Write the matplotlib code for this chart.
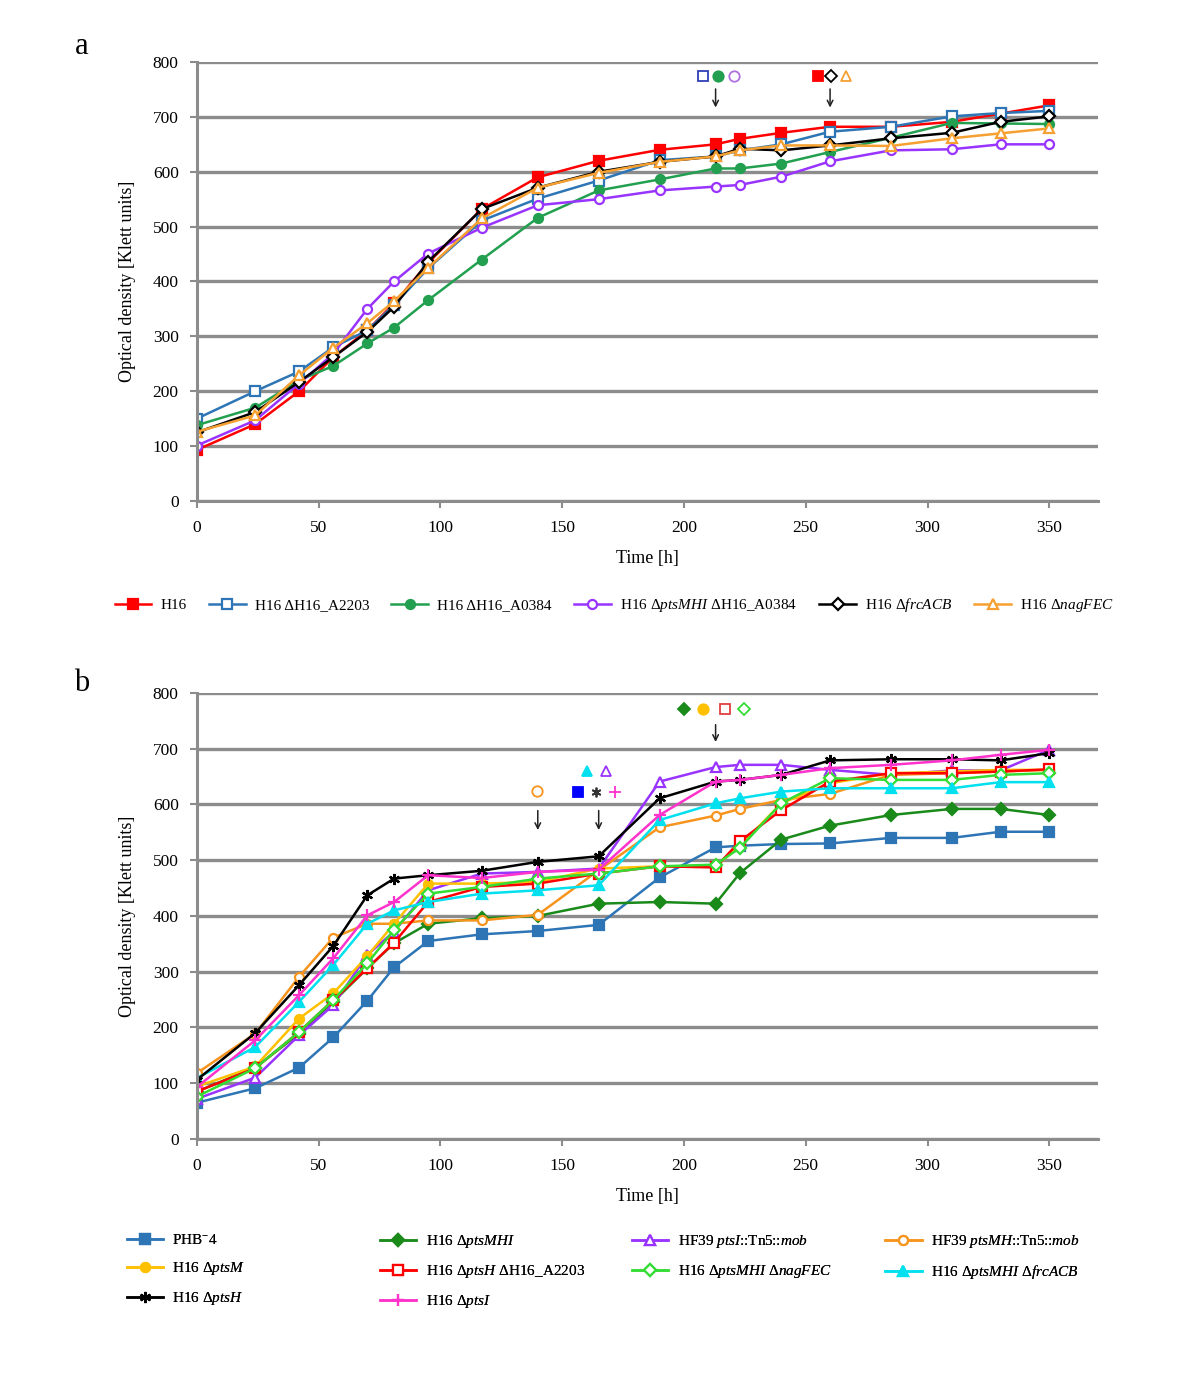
import matplotlib
matplotlib.use('Agg')
import matplotlib.pyplot as plt
import numpy as np

# ===================== 全局设置 =====================
plt.rcParams['font.family'] = ['Liberation Serif', 'DejaVu Serif']
plt.rcParams['mathtext.fontset'] = 'custom'
plt.rcParams['mathtext.rm'] = 'Liberation Serif'
plt.rcParams['mathtext.it'] = 'Liberation Serif:italic'

# ===================== 数据 =====================
time_h = [0, 24, 42, 56, 70, 81, 95, 117, 140, 165, 190, 213, 223, 240, 260, 285, 310, 330, 350]

# panel a
a_h16 = [93, 140, 200, 262, 311, 360, 434, 532, 590, 620, 640, 650, 660, 671, 682, 682, 691, 706, 721]
a_a2203 = [150, 200, 236, 280, 311, 357, 424, 511, 551, 584, 621, 628, 639, 650, 673, 682, 701, 707, 711]
a_a0384 = [138, 170, 220, 246, 287, 316, 366, 440, 516, 566, 586, 606, 606, 615, 636, 662, 689, 688, 687]
a_mhi_a0384 = [101, 147, 214, 268, 350, 400, 451, 498, 539, 550, 566, 573, 576, 591, 619, 639, 641, 650, 650]
a_frc = [125, 162, 217, 262, 308, 354, 436, 532, 571, 600, 618, 628, 642, 639, 648, 661, 671, 691, 701]
a_nag = [126, 156, 229, 279, 324, 364, 425, 515, 571, 598, 618, 628, 639, 648, 648, 647, 661, 670, 679]

# panel b
b_phb4 = [65, 91, 128, 182, 248, 308, 355, 367, 373, 384, 469, 523, 526, 529, 530, 540, 540, 551, 551]
b_mhi = [85, 128, 189, 246, 306, 351, 386, 396, 400, 422, 425, 422, 477, 537, 562, 581, 592, 592, 581]
b_hf39_i = [72, 110, 186, 240, 330, 372, 446, 476, 479, 485, 641, 667, 671, 671, 662, 653, 661, 661, 698]
b_hf39_mh = [118, 189, 291, 361, 386, 386, 392, 392, 402, 482, 559, 580, 592, 608, 619, 653, 656, 659, 662]
b_m = [94, 130, 216, 261, 328, 386, 458, 458, 461, 485, 489, 489, 526, 602, 638, 656, 659, 662, 662]
b_h_a2203 = [85, 127, 192, 249, 306, 352, 425, 452, 458, 476, 489, 487, 534, 590, 641, 656, 656, 659, 663]
b_mhi_nag = [76, 127, 192, 249, 315, 375, 440, 452, 467, 476, 489, 492, 522, 602, 647, 644, 644, 653, 656]
b_mhi_frc = [109, 165, 246, 312, 386, 410, 425, 440, 446, 455, 572, 602, 611, 623, 629, 629, 629, 640, 640]
b_h = [106, 190, 276, 346, 437, 467, 473, 481, 497, 507, 611, 641, 644, 653, 679, 681, 681, 679, 692]
b_i = [93, 177, 258, 324, 401, 425, 473, 468, 479, 483, 581, 641, 644, 653, 665, 671, 679, 689, 698]

# (label, values, color, marker, filled)
series_a = [
    ('H16', a_h16, '#ff0000', 's', True),
    ('H16 ΔH16_A2203', a_a2203, '#2e75b6', 's', False),
    ('H16 ΔH16_A0384', a_a0384, '#22a050', 'o', True),
    (r'H16 Δ$\it{ptsMHI}$ ΔH16_A0384', a_mhi_a0384, '#9933ff', 'o', False),
    (r'H16 Δ$\it{frcACB}$', a_frc, '#000000', 'D', False),
    (r'H16 Δ$\it{nagFEC}$', a_nag, '#f5a030', '^', False),
]

series_b = [
    (r'PHB$^{-}$4', b_phb4, '#2e75b6', 's', True),
    (r'H16 Δ$\it{ptsMHI}$', b_mhi, '#1a8a1a', 'D', True),
    (r'HF39 $\it{ptsI}$::Tn5::$\it{mob}$', b_hf39_i, '#9933ff', '^', False),
    (r'HF39 $\it{ptsMH}$::Tn5::$\it{mob}$', b_hf39_mh, '#f7941d', 'o', False),
    (r'H16 Δ$\it{ptsM}$', b_m, '#ffc000', 'o', True),
    (r'H16 Δ$\it{ptsH}$ ΔH16_A2203', b_h_a2203, '#ff0000', 's', False),
    (r'H16 Δ$\it{ptsMHI}$ Δ$\it{nagFEC}$', b_mhi_nag, '#33dd33', 'D', False),
    (r'H16 Δ$\it{ptsMHI}$ Δ$\it{frcACB}$', b_mhi_frc, '#00e0ee', '^', True),
    (r'H16 Δ$\it{ptsH}$', b_h, '#000000', (6, 2, 0), True),
    (r'H16 Δ$\it{ptsI}$', b_i, '#ff33cc', '+', True),
]

GRID = '#8c8c8c'


def style_axes(ax):
    ax.set_xlim(0, 370)
    ax.set_ylim(0, 800)
    ax.set_xticks(np.arange(0, 351, 50))
    ax.set_yticks(np.arange(0, 801, 100))
    ax.yaxis.grid(True, color=GRID, linewidth=2.4)
    ax.set_axisbelow(True)
    for s in ['top', 'right']:
        ax.spines[s].set_visible(False)
    for s in ['left', 'bottom']:
        ax.spines[s].set_color(GRID)
        ax.spines[s].set_linewidth(2.2)
    ax.tick_params(colors=GRID, width=1.5, length=5, labelcolor='black', labelsize=12.5)
    ax.tick_params(axis='x', pad=9)
    ax.tick_params(axis='y', pad=8)
    ax.set_xlabel('Time [h]', fontsize=13, labelpad=10)
    ax.set_ylabel('Optical density [Klett units]', fontsize=13, labelpad=12)


def draw_series(ax, series):
    handles = []
    for label, vals, color, marker, filled in series:
        ms = 8 if marker in ('+',) or isinstance(marker, tuple) else 6.5
        h, = ax.plot(time_h, vals, color=color, linewidth=1.8, marker=marker,
                     markersize=ms, markeredgewidth=1.6, markeredgecolor=color,
                     markerfacecolor=color if filled else 'white', label=label)
        handles.append(h)
    return handles


def note(ax, x, y, marker, color, filled, ms=7.5):
    ax.plot([x], [y], linestyle='none', marker=marker, markersize=ms,
            markeredgecolor=color, markeredgewidth=1.3,
            markerfacecolor=color if filled else 'white', clip_on=False)


def arrow(ax, x, y0, y1):
    ax.annotate('', xy=(x, y1), xytext=(x, y0),
                arrowprops=dict(arrowstyle='->', color='#222222', lw=1.1), annotation_clip=False)


fig = plt.figure(figsize=(12, 13.97), dpi=100)
ax_a = fig.add_axes([0.164, 0.6414, 0.751, 0.3142])
ax_b = fig.add_axes([0.164, 0.1847, 0.751, 0.3193])

# ---------- panel a ----------
ha = draw_series(ax_a, series_a)
style_axes(ax_a)
note(ax_a, 207.7, 774, 's', '#2e3fb6', False, 7)
note(ax_a, 213.8, 774, 'o', '#22a050', True)
note(ax_a, 220.5, 774, 'o', '#b070e0', False)
arrow(ax_a, 213, 756, 712)
note(ax_a, 255, 774, 's', '#ff0000', True, 7)
note(ax_a, 260.4, 774, 'D', '#000000', False, 6)
note(ax_a, 266.5, 774, '^', '#f5a030', False, 6.5)
arrow(ax_a, 260, 756, 712)
fig.text(0.062, 0.967, 'a', fontsize=22, ha='left', va='center')
fig.legend(handles=ha, loc='center', bbox_to_anchor=(0.512, 0.567), ncol=6,
           frameon=False, fontsize=11, handlelength=2.4, columnspacing=1.45, handletextpad=0.6)

# ---------- panel b ----------
hb = draw_series(ax_b, series_b)
style_axes(ax_b)
note(ax_b, 200, 771, 'D', '#1a8a1a', True, 6.5)
note(ax_b, 208, 771, 'o', '#ffc000', True)
note(ax_b, 216.8, 771, 's', '#e04040', False, 7)
note(ax_b, 224.6, 771, 'D', '#33dd33', False, 6)
arrow(ax_b, 213, 748, 707)
note(ax_b, 139.5, 624, 'o', '#f7941d', False)
arrow(ax_b, 140, 594, 549)
note(ax_b, 160, 660, '^', '#00e0ee', True)
note(ax_b, 168, 660, '^', '#9933ff', False, 6.5)
note(ax_b, 156.7, 622, 's', '#0000ff', True, 7)
note(ax_b, 164, 622, (6, 2, 0), '#333333', True, 7)
note(ax_b, 171.5, 622, '+', '#ff33cc', True, 8)
arrow(ax_b, 165, 594, 549)
fig.text(0.062, 0.511, 'b', fontsize=22, ha='left', va='center')

# 图例：四列，各列单独放置
col_groups = [[0, 4, 8], [1, 5, 9], [2, 6], [3, 7]]
col_x = [0.094, 0.305, 0.515, 0.726]
for idx, x0 in zip(col_groups, col_x):
    leg = fig.legend(handles=[hb[i] for i in idx], loc='upper left', bbox_to_anchor=(x0, 0.127),
                     ncol=1, frameon=False, fontsize=11, handlelength=2.4,
                     handletextpad=0.6, labelspacing=0.85)
    fig.add_artist(leg)

plt.savefig('out.png', dpi=100)
